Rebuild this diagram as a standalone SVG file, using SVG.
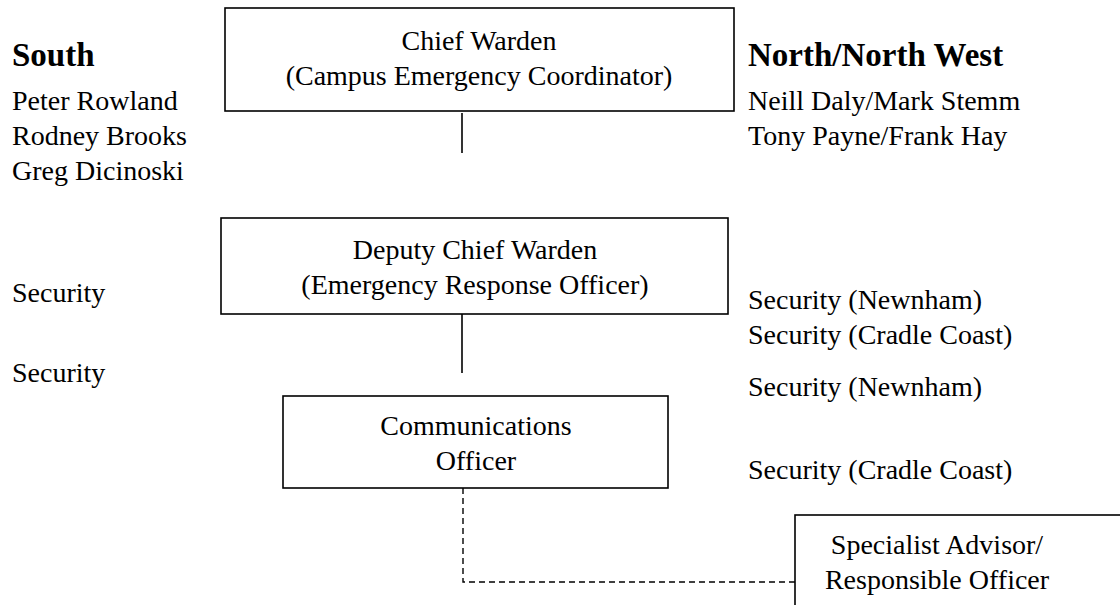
<svg xmlns="http://www.w3.org/2000/svg" width="1120" height="605" viewBox="0 0 1120 605">
<style>
text{font-family:"Liberation Serif","Times New Roman",serif;font-size:28px;fill:#000}
.h{font-weight:bold;font-size:33px}
.c{text-anchor:middle}
.box{fill:#fff;stroke:#000;stroke-width:1.6}
.ln{stroke:#000;stroke-width:1.6;fill:none}
.dash{stroke:#000;stroke-width:1.4;fill:none;stroke-dasharray:6 4}
</style>
<rect width="1120" height="605" fill="#fff"/>
<g id="south">
<text class="h" x="12" y="66">South</text>
<text x="12" y="110">Peter Rowland</text>
<text x="12" y="145">Rodney Brooks</text>
<text x="12" y="180">Greg Dicinoski</text>
<text x="12" y="302">Security</text>
<text x="12" y="382">Security</text>
</g>
<g id="north">
<text class="h" x="748" y="66">North/North West</text>
<text x="748" y="110">Neill Daly/Mark Stemm</text>
<text x="748" y="145">Tony Payne/Frank Hay</text>
<text x="748" y="309">Security (Newnham)</text>
<text x="748" y="344">Security (Cradle Coast)</text>
<text x="748" y="396">Security (Newnham)</text>
<text x="748" y="479">Security (Cradle Coast)</text>
</g>
<g id="connectors">
<line class="ln" x1="462" y1="113" x2="462" y2="153"/>
<line class="ln" x1="462" y1="314" x2="462" y2="373"/>
<polyline class="dash" points="463,488 463,582 795,582"/>
</g>
<g id="chief">
<rect class="box" x="225" y="8" width="509" height="103"/>
<text class="c" x="479" y="50">Chief Warden</text>
<text class="c" x="479" y="85">(Campus Emergency Coordinator)</text>
</g>
<g id="deputy">
<rect class="box" x="221" y="218" width="507" height="96"/>
<text class="c" x="475" y="259">Deputy Chief Warden</text>
<text class="c" x="475" y="294">(Emergency Response Officer)</text>
</g>
<g id="comms">
<rect class="box" x="283" y="396" width="385" height="92"/>
<text class="c" x="476" y="435">Communications</text>
<text class="c" x="476" y="470">Officer</text>
</g>
<g id="specialist">
<rect class="box" x="795" y="515" width="340" height="100"/>
<text class="c" x="937" y="554">Specialist Advisor/</text>
<text class="c" x="937" y="589">Responsible Officer</text>
</g>
</svg>
